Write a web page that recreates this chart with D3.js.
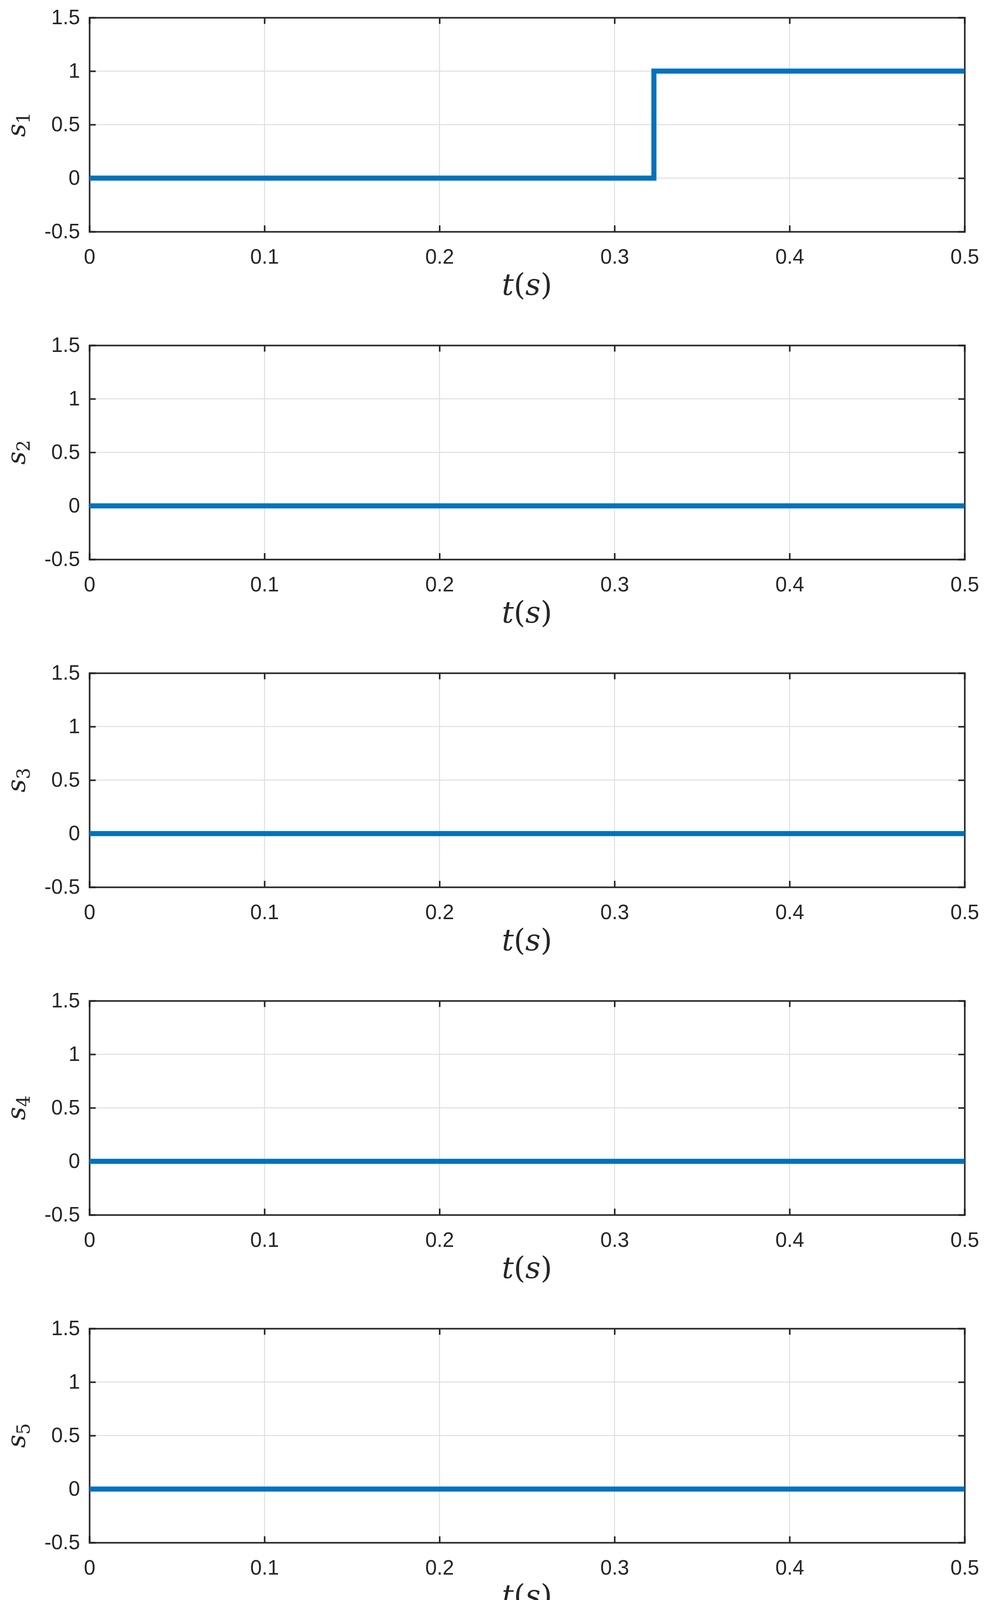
<!DOCTYPE html>
<html>
<head>
<script src="https://cdn.jsdelivr.net/npm/d3@7"></script>
<meta charset="utf-8">
<style>body{margin:0;background:#fff}</style>
</head>
<body>
<svg width="2553" height="4198" id="mainsvg"></svg>
<script>
    // each signal: list of [t, value] breakpoints
    const signalNames = ["1", "2", "3", "4", "5"];
    const signals = [
        [[0, 0], [0.3225, 0], [0.3225, 1], [0.5, 1]],
        [[0, 0], [0.5, 0]],
        [[0, 0], [0.5, 0]],
        [[0, 0], [0.5, 0]],
        [[0, 0], [0.5, 0]]
    ];
    const xTicks = [0, 0.1, 0.2, 0.3, 0.4, 0.5];
    const yTicks = [-0.5, 0, 0.5, 1, 1.5];

    const svg = d3.select('#mainsvg');
    const left = 229, width = 2241, height = 548, top0 = 45, step = 839;
    const x = d3.scaleLinear().domain([0, 0.5]).range([0, width]);
    const y = d3.scaleLinear().domain([-0.5, 1.5]).range([height, 0]);
    const line = d3.line().x(d => x(d[0])).y(d => y(d[1]));
    const fmt = d => String(d);

    signals.forEach((data, i) => {
        const g = svg.append('g').attr('transform', `translate(${left},${top0 + i * step})`);
        // grid
        g.selectAll('.vg').data(xTicks).join('line')
            .attr('x1', d => x(d)).attr('x2', d => x(d)).attr('y1', 0).attr('y2', height)
            .attr('stroke', '#dfdfdf').attr('stroke-width', 2.5);
        g.selectAll('.hg').data(yTicks).join('line')
            .attr('y1', d => y(d)).attr('y2', d => y(d)).attr('x1', 0).attr('x2', width)
            .attr('stroke', '#dfdfdf').attr('stroke-width', 2.5);

        const xa = g.append('g').attr('transform', `translate(0,${height})`)
            .call(d3.axisBottom(x).tickValues(xTicks).tickSize(-16).tickPadding(34).tickFormat(fmt));
        const xt = g.append('g').call(d3.axisTop(x).tickValues(xTicks).tickSize(-16).tickFormat(''));
        const ya = g.append('g')
            .call(d3.axisLeft(y).tickValues(yTicks).tickSize(-16).tickPadding(24).tickFormat(fmt));
        const yr = g.append('g').attr('transform', `translate(${width},0)`)
            .call(d3.axisRight(y).tickValues(yTicks).tickSize(-16).tickFormat(''));
        [xa, xt, ya, yr].forEach(a => {
            a.selectAll('path,line').attr('stroke', '#262626').attr('stroke-width', 4);
            a.selectAll('text').attr('font-family', 'Liberation Sans, Arial, sans-serif')
                .attr('font-size', 53).attr('fill', '#262626');
        });
        xa.selectAll('text').attr('dy', '0.9em');

        g.append('path').datum(data).attr('d', line)
            .attr('fill', 'none').attr('stroke', '#0072bd').attr('stroke-width', 13);

        g.append('text').attr('x', width / 2).attr('y', height + 162)
            .attr('text-anchor', 'middle').attr('font-family', 'DejaVu Serif, serif')
            .attr('font-size', 76).attr('fill', '#262626')
            .html('<tspan font-style="italic">t</tspan>(<tspan font-style="italic">s</tspan>)');

        g.append('text').attr('transform', `translate(-165,${height / 2}) rotate(-90)`)
            .attr('text-anchor', 'middle').attr('font-family', 'DejaVu Serif, serif')
            .attr('font-size', 66).attr('fill', '#262626')
            .html(`<tspan font-style="italic">s</tspan><tspan font-size="46" dy="12">${signalNames[i]}</tspan>`);
    });
</script>
</body>
</html>
